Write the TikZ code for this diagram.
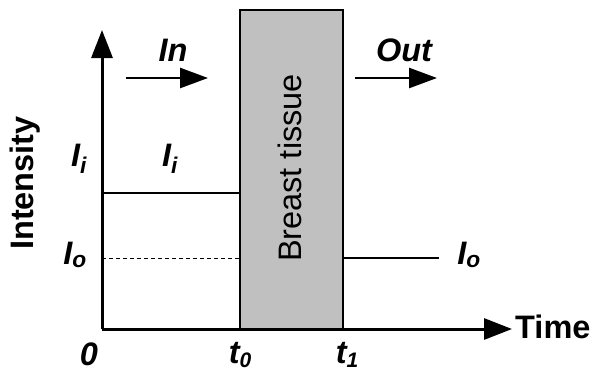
\documentclass[tikz,border=0pt]{standalone}
\usepackage{fontspec}
\setmainfont{Liberation Sans}
\usetikzlibrary{arrows.meta}
\definecolor{tissuegray}{RGB}{192,192,192}
\newcommand\lowsub[1]{\raisebox{-4pt}{\fontsize{21}{24}\selectfont #1}}
\tikzset{
  axis/.style={line width=3pt,-{Triangle[length=28pt,width=21pt]}},
  flow/.style={line width=2.7pt,-{Triangle[length=28pt,width=20pt]}},
  level/.style={line width=2.7pt},
  guide/.style={line width=0.9pt,dash pattern=on 4pt off 3pt},
  tissue/.style={draw=black,line width=2pt,fill=tissuegray,minimum width=103pt,minimum height=319pt,inner sep=0pt},
  lbl/.style={font=\fontsize{32.5}{38}\selectfont\bfseries\itshape,inner sep=0pt,anchor=base},
  ttl/.style={font=\fontsize{32.5}{38}\selectfont\bfseries,inner sep=0pt},
}
\begin{document}
\begin{tikzpicture}[x=1pt,y=-1pt]
\useasboundingbox (0,0) rectangle (593,372);
\coordinate (O) at (102,329);
\coordinate (ytip) at (102,30);
\coordinate (xtip) at (512,329);
\node[tissue] (box) at (291.5,169.5) {};
\node[font=\fontsize{32.5}{38}\selectfont,rotate=90,inner sep=0pt] (bt) at (290,168) {Breast tissue};
\draw[axis] (O) -- (ytip);
\draw[axis] (O) -- (xtip);
\node[ttl,anchor=west] (time) at (515,327) {Time};
\node[ttl,rotate=90] (int) at (25,183) {Intensity};
% levels
\coordinate (li) at (102,193);
\coordinate (lo) at (102,258);
\coordinate (ri) at (240,193);
\coordinate (ro) at (240,258);
\coordinate (so) at (343,258);
\coordinate (eo) at (439,258);
\draw[level] (li) -- (ri);
\draw[guide] (lo) -- (ro);
\draw[level] (so) -- (eo);
% flow arrows
\coordinate (ina) at (126,78);
\coordinate (inb) at (208,78);
\coordinate (outa) at (355,78);
\coordinate (outb) at (437,78);
\draw[flow] (ina) -- (inb);
\draw[flow] (outa) -- (outb);
\node[lbl] (inl) at (173,61) {In};
\node[lbl] (outl) at (404,61) {Out};
% labels
\node[lbl] (ii1) at (79,166) {I\textsubscript{i}};
\node[lbl] (ii2) at (170,166) {I\textsubscript{i}};
\node[lbl] (io1) at (75,264) {I\textsubscript{o}};
\node[lbl] (io2) at (469,264) {I\textsubscript{o}};
\node[lbl] (z) at (89,365) {0};
\node[lbl] (t0) at (240,363) {t\lowsub{0}};
\node[lbl] (t1) at (347,363) {t\lowsub{1}};
\end{tikzpicture}
\end{document}
